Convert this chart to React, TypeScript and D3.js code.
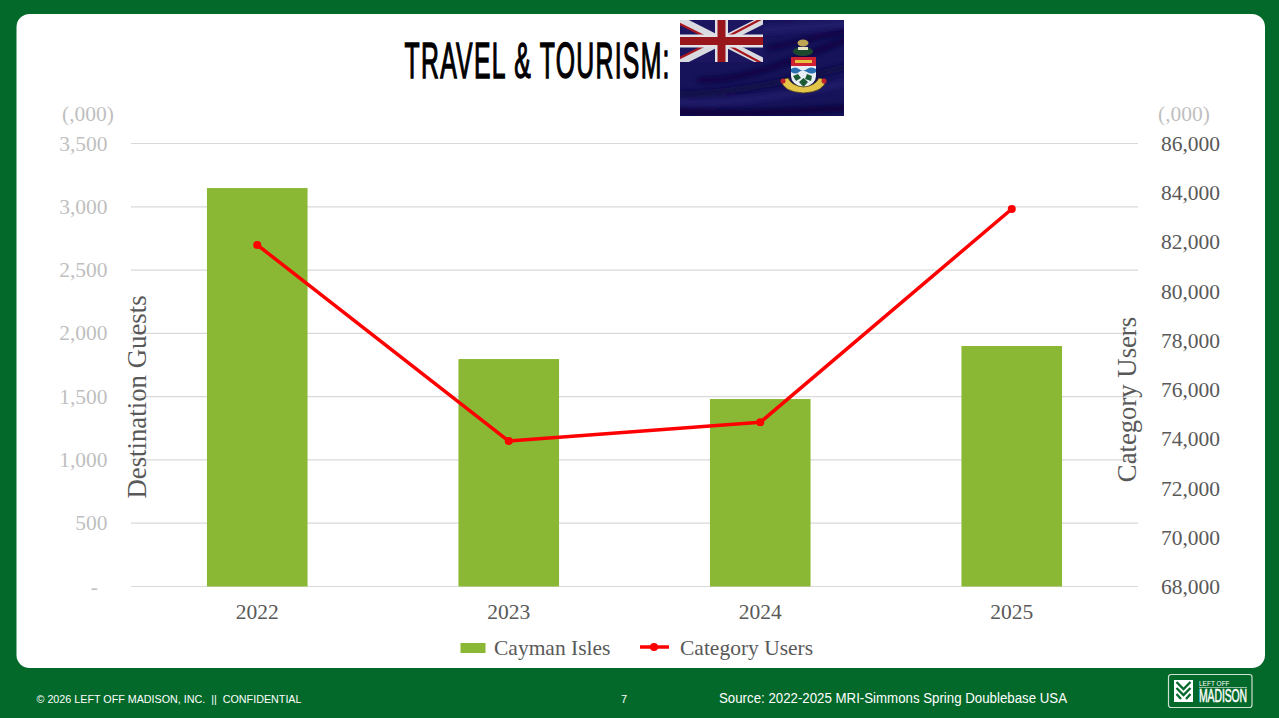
import React from "react";
import * as d3 from "d3";

const years = ["2022", "2023", "2024", "2025"];
const guests = [3148, 1797, 1481, 1900];
const users = [81880, 73910, 74670, 83340];
const leftTicks = [0, 500, 1000, 1500, 2000, 2500, 3000, 3500];
const rightTicks = [68000, 70000, 72000, 74000, 76000, 78000, 80000, 82000, 84000, 86000];

const W = 1279, H = 718;
const SERIF = "'Liberation Serif', serif";
const SANS = "'Liberation Sans', sans-serif";
const GREEN = "#03692a";

const x = d3.scaleBand<string>().domain(years).range([131.5, 1137.5]).paddingInner(0.6).paddingOuter(0.3);
const xc = (d: string) => (x(d) as number) + x.bandwidth() / 2;
const yL = d3.scaleLinear().domain([0, 3500]).range([586.5, 143.5]);
const yR = d3.scaleLinear().domain([68000, 86000]).range([586.5, 143.5]);
const fmt = d3.format(",");
const linePath = d3.line<number>().x((_, i) => xc(years[i])).y((d) => yR(d))(users) as string;

function Flag() {
  return (
    <g transform="translate(680,20)">
      <defs>
        <clipPath id="flagClip"><rect width="164" height="96" /></clipPath>
        <clipPath id="jack"><rect width="83" height="42" /></clipPath>
        <filter id="soft"><feGaussianBlur stdDeviation="0.5" /></filter>
        <filter id="wave" x="-10%" y="-10%" width="120%" height="120%"><feGaussianBlur stdDeviation="2.5" /></filter>
      </defs>
      <rect width="164" height="96" fill="#17135a" />
      <g clipPath="url(#flagClip)">
        <g filter="url(#wave)" fill="none" strokeLinecap="round">
          <path d="M0,92C50,94 110,92 170,88" stroke="#07033a" strokeWidth="7" />
          <path d="M0,74C40,74 90,66 170,46" stroke="#0c0845" strokeWidth="6" />
          <path d="M20,60C60,62 110,42 170,18" stroke="#0a0642" strokeWidth="6" />
          <path d="M85,10C110,8 140,6 170,3" stroke="#221e6b" strokeWidth="8" />
          <path d="M0,82C50,84 110,76 170,62" stroke="#221f6c" strokeWidth="5" />
          <path d="M90,28C120,22 150,14 170,10" stroke="#0a0642" strokeWidth="5" />
        </g>
        <g filter="url(#soft)">
          <g clipPath="url(#jack)">
            <rect width="83" height="42" fill="#1a1660" />
            <path d="M0,0L83,42M83,0L0,42" stroke="#d9d9e0" strokeWidth="8" />
            <path d="M-2,3L38,23M85,-3L45,18M-2,39L36,20M85,45L46,24" stroke="#a8151f" strokeWidth="2.200" />
            <path d="M41.500,0V42M0,21H83" stroke="#e2e2e6" strokeWidth="13" />
            <path d="M41.500,0V42M0,21H83" stroke="#98131d" strokeWidth="8" />
          </g>
          <ellipse cx="123" cy="23" rx="5.500" ry="3.500" fill="#bda552" />
          <ellipse cx="123" cy="31.500" rx="10" ry="4.500" fill="#1d4a2e" />
          <rect x="118" y="27" width="10" height="3" fill="#e9e4c8" />
          <rect x="111" y="37" width="25" height="9" fill="#cf2430" />
          <rect x="115" y="40" width="17" height="3" fill="#e8c33e" />
          <path d="M111,46H136V56Q136,64 123.500,68Q111,64 111,56Z" fill="#e8eef4" />
          <path d="M111,49q4,-3 8,0t8,0t9,0v3q-4,3 -9,0t-8,0t-8,0Z" fill="#2a6fb0" />
          <path d="M113,56L118,54L121,58L116,61ZM127,54L132,56L131,61L125,59Z" fill="#1e5a34" />
          <path d="M119,62L123.500,58L128,62L123.500,67Z" fill="#1e5a34" />
          <path d="M101,60Q103,72 123.500,73Q144,72 146,60L139,58Q135,66 123.500,67Q112,66 108,58Z" fill="#e3c64a" stroke="#4a3d18" strokeWidth="0.800" />
          <circle cx="103" cy="61" r="2.500" fill="#c3222c" />
          <circle cx="144" cy="61" r="2.500" fill="#c3222c" />
        </g>
      </g>
    </g>
  );
}

function Logo() {
  return (
    <g transform="translate(1168,674)">
      <rect x="0.5" y="0.5" width="83.500" height="33" rx="2.500" fill="none" stroke="#cfe0d3" strokeWidth="1.200" />
      <rect x="6" y="6" width="19" height="22" fill="#ffffff" />
      <path d="M8.500,8L15.500,15L22.500,8M8.500,14L15.500,21L22.500,14M8.500,20L13,25M22.500,20L18,25" fill="none" stroke={GREEN} strokeWidth="2.300" />
      <text x="31" y="12" fontFamily={SANS} fontSize="6.500" fill="#ffffff">LEFT OFF</text>
      <line x1="31" x2="79" y1="13.500" y2="13.500" stroke="#bcd6c2" strokeWidth="0.800" />
      <g transform="translate(31,28) scale(0.58,1)">
        <text x="0" y="0" fontFamily={SANS} fontSize="18" fill="#ffffff" stroke="#ffffff" strokeWidth="0.500" textLength="83" lengthAdjust="spacing">MADISON</text>
      </g>
    </g>
  );
}

export default function App() {
  return (
    <svg width={W} height={H} viewBox={`0 0 ${W} ${H}`} style={{ position: "absolute", left: 0, top: 0, display: "block" }}>
      <rect width={W} height={H} fill={GREEN} />
      <rect x="16.500" y="14" width="1248.500" height="654" rx="13" fill="#ffffff" />

      <g transform="translate(404.500,77.500) scale(0.5,1)">
        <text x="0" y="0" fontFamily={SANS} fontSize="49.500" fill="#000000" stroke="#000000" strokeWidth="1.400" textLength="530" lengthAdjust="spacing">TRAVEL &amp; TOURISM:</text>
      </g>
      <Flag />

      {leftTicks.map((t) => (
        <line key={t} x1={131} x2={1138} y1={yL(t)} y2={yL(t)} stroke="#d9d9d9" strokeWidth="1.200" />
      ))}
      {years.map((y, i) => (
        <rect key={y} x={x(y)} y={yL(guests[i])} width={x.bandwidth()} height={yL(0) - yL(guests[i])} fill="#8ab834" />
      ))}
      <path d={linePath} fill="none" stroke="#fe0000" strokeWidth="3.500" strokeLinejoin="round" />
      {years.map((y, i) => (
        <circle key={y} cx={xc(y)} cy={yR(users[i])} r="4" fill="#fe0000" />
      ))}

      <text x="114" y="121" textAnchor="end" fontFamily={SERIF} fontSize="21.500" fill="#bfbfbf">(,000)</text>
      {leftTicks.map((t) => (
        <text key={t} x={t === 0 ? 98 : 107.500} y={yL(t) + 7} textAnchor="end" fontFamily={SERIF} fontSize="21.500" fill="#bfbfbf">{t === 0 ? "-" : fmt(t)}</text>
      ))}
      <text x="1210" y="121" textAnchor="end" fontFamily={SERIF} fontSize="21.500" fill="#bfbfbf">(,000)</text>
      {rightTicks.map((t) => (
        <text key={t} x={1220} y={yR(t) + 7.500} textAnchor="end" fontFamily={SERIF} fontSize="21.500" fill="#595959">{fmt(t)}</text>
      ))}
      {years.map((y) => (
        <text key={y} x={xc(y)} y={619} textAnchor="middle" fontFamily={SERIF} fontSize="21.500" fill="#595959">{y}</text>
      ))}
      <text transform="translate(145.500,397) rotate(-90)" textAnchor="middle" fontFamily={SERIF} fontSize="26.800" fill="#595959">Destination Guests</text>
      <text transform="translate(1136,399.500) rotate(-90)" textAnchor="middle" fontFamily={SERIF} fontSize="26.700" fill="#595959">Category Users</text>

      <rect x="460.500" y="643" width="25" height="10" fill="#8ab834" />
      <text x="494" y="655" fontFamily={SERIF} fontSize="21.500" fill="#595959">Cayman Isles</text>
      <line x1="640" x2="669" y1="647" y2="647" stroke="#fe0000" strokeWidth="3.500" />
      <circle cx="654" cy="647" r="4" fill="#fe0000" />
      <text x="680" y="655" fontFamily={SERIF} fontSize="21.500" fill="#595959">Category Users</text>

      <text x="36.500" y="703" fontFamily={SANS} fontSize="11" fill="#ffffff" style={{ whiteSpace: "pre" }} textLength="265" lengthAdjust="spacingAndGlyphs">© 2026 LEFT OFF MADISON, INC.  ||  CONFIDENTIAL</text>
      <text x="621" y="703" fontFamily={SANS} fontSize="11" fill="#ffffff">7</text>
      <text x="719" y="703" fontFamily={SANS} fontSize="14" fill="#ffffff" textLength="348" lengthAdjust="spacingAndGlyphs">Source: 2022-2025 MRI-Simmons Spring Doublebase USA</text>
      <Logo />
    </svg>
  );
}
